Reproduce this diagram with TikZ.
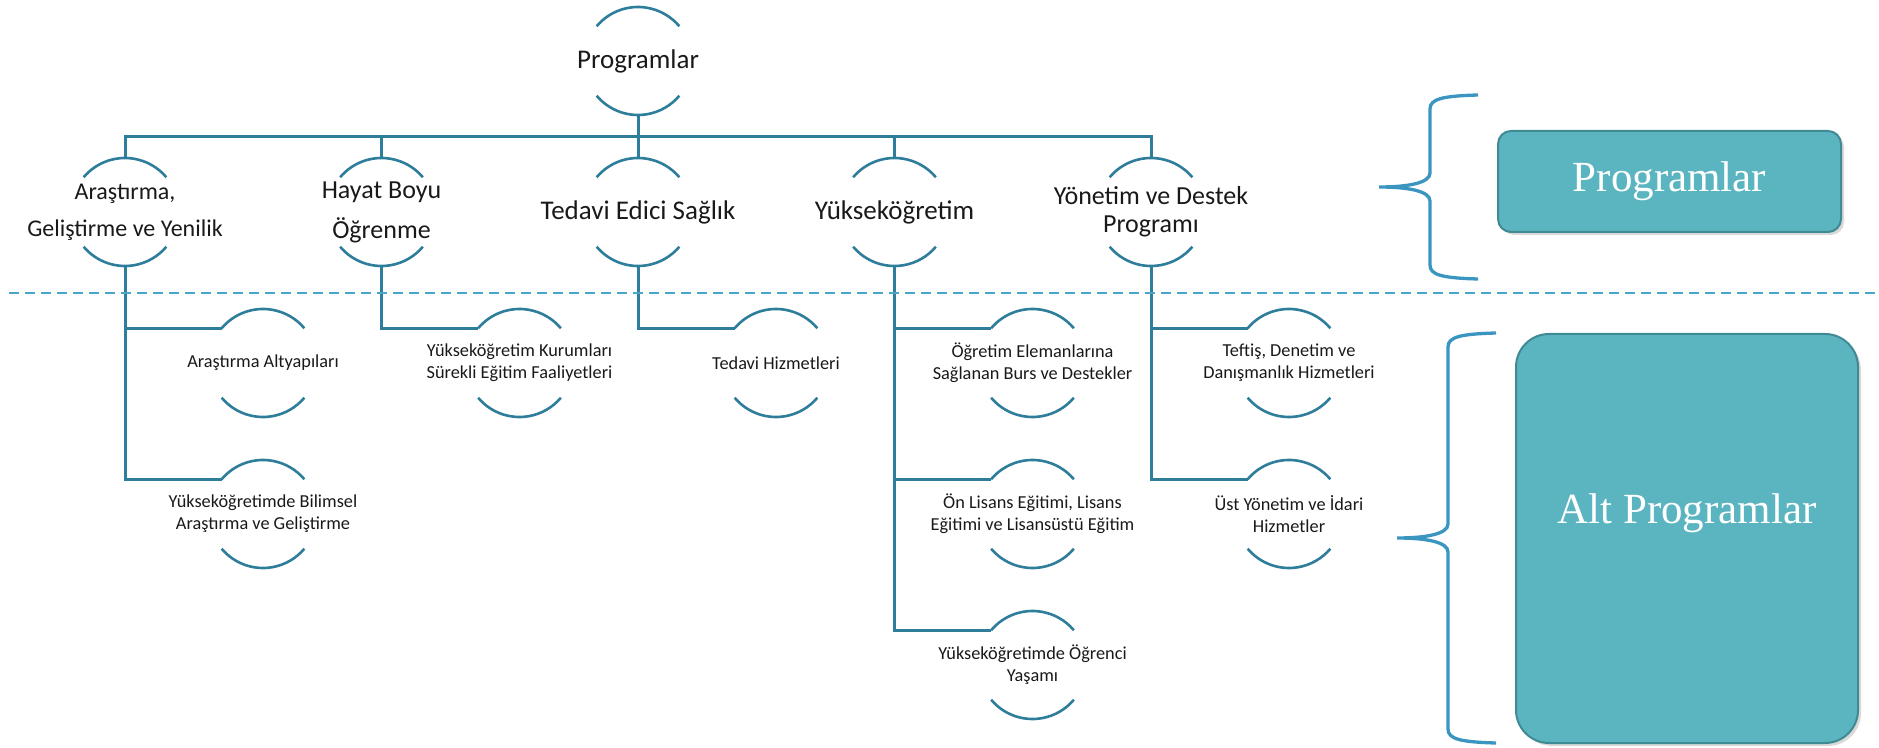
\documentclass[tikz,border=0pt]{standalone}
\usepackage{fontspec}
\newfontfamily\carlito{Carlito}
\newfontfamily\boxserif{Liberation Serif}
\usetikzlibrary{positioning, shadows}

\definecolor{treeblue}{RGB}{46,125,155}
\definecolor{dashblue}{RGB}{75,165,200}
\definecolor{braceblue}{RGB}{58,150,192}
\definecolor{boxfill}{RGB}{90,181,193}
\definecolor{boxline}{RGB}{64,138,148}

\tikzset{
    prog/.style={circle, minimum size=108pt, inner sep=0pt, outer sep=0pt, draw=none},
    lbl/.style={align=center, inner sep=0pt, text=black!90},
    huge/.style={lbl, font=\carlito\fontsize{27}{33}\selectfont},
    twoA/.style={lbl, font=\carlito\fontsize{24}{37}\selectfont},
    twoB/.style={lbl, font=\carlito\fontsize{26}{40}\selectfont},
    twoC/.style={lbl, font=\carlito\fontsize{26}{28}\selectfont},
    small/.style={lbl, font=\carlito\fontsize{18.3}{21.7}\selectfont},
    tree/.style={draw=treeblue, line width=3pt},
    arcline/.style={draw=treeblue, line width=2.6pt},
    brace/.style={draw=braceblue, line width=3.3pt},
    bigbox/.style={rectangle, fill=boxfill, draw=boxline, line width=2pt,
                   drop shadow={shadow xshift=3pt, shadow yshift=-3pt, opacity=.3}},
    boxtext/.style={text=white, font=\boxserif\fontsize{43}{50}\selectfont}
}

\begin{document}
\begin{tikzpicture}[x=1pt, y=1pt]
    \useasboundingbox (0,0) rectangle (1879,747);

    % Programs
    \node[prog, label={[huge]center:{Programlar}}] (top) at (638,686) {};
    \node[prog, below=43pt of top, label={[huge]center:{Tedavi Edici Sağlık}}] (ted) {};
    \node[prog, left=148.5pt of ted, label={[twoB]center:{Hayat Boyu\\Öğrenme}}] (hb) {};
    \node[prog, left=148.5pt of hb, label={[twoA]center:{Araştırma,\\Geliştirme ve Yenilik}}] (ar) {};
    \node[prog, right=148.5pt of ted, label={[huge]center:{Yükseköğretim}}] (yuk) {};
    \node[prog, right=148.5pt of yuk, label={[twoC]center:{Yönetim ve Destek\\Programı}}] (yon) {};

    % Sub programs
    \node[prog, below=43pt of ar, xshift=138pt, label={[small]center:{Araştırma Altyapıları}}] (ar1) {};
    \node[prog, below=43pt of ar1, label={[small]center:{Yükseköğretimde Bilimsel\\Araştırma ve Geliştirme}}] (ar2) {};
    \node[prog, below=43pt of hb, xshift=138pt, label={[small]center:{Yükseköğretim Kurumları\\Sürekli Eğitim Faaliyetleri}}] (hb1) {};
    \node[prog, below=43pt of ted, xshift=138pt, label={[small]center:{Tedavi Hizmetleri}}] (ted1) {};
    \node[prog, below=43pt of yuk, xshift=138pt, label={[small]center:{Öğretim Elemanlarına\\Sağlanan Burs ve Destekler}}] (yuk1) {};
    \node[prog, below=43pt of yuk1, label={[small]center:{Ön Lisans Eğitimi, Lisans\\Eğitimi ve Lisansüstü Eğitim}}] (yuk2) {};
    \node[prog, below=43pt of yuk2, label={[small]center:{Yükseköğretimde Öğrenci\\Yaşamı}}] (yuk3) {};
    \node[prog, below=43pt of yon, xshift=138pt, label={[small]center:{Teftiş, Denetim ve\\Danışmanlık Hizmetleri}}] (yon1) {};
    \node[prog, below=43pt of yon1, label={[small]center:{Üst Yönetim ve İdari\\Hizmetler}}] (yon2) {};

    % Arcs above and below each name
    \foreach \n in {top,ar,hb,ted,yuk,yon,ar1,ar2,hb1,ted1,yuk1,yuk2,yuk3,yon1,yon2}{
        \draw[arcline] (\n.140) arc[start angle=140, end angle=40, radius=54pt];
        \draw[arcline] (\n.220) arc[start angle=220, end angle=320, radius=54pt];
    }

    % Connectors
    \foreach \c in {ar,hb,ted,yuk,yon}
        \draw[tree] (top.south) -- ++(0,-21.5) -| (\c.north);
    \foreach \p/\s in {ar/ar1, ar/ar2, hb/hb1, ted/ted1, yuk/yuk1, yuk/yuk2, yuk/yuk3, yon/yon1, yon/yon2}
        \draw[tree] (\p.south) |- (\s.140);

    % Divider
    \draw[dashblue, line width=2.3pt, dash pattern=on 10pt off 6pt] (9,454) -- (1879,454);

    % Braces
    \foreach \m/\h/\xs in {560/92/1430, 209/205/1448}
        \draw[brace] (\xs+48,\m+\h) .. controls (\xs+12,\m+\h-1) and (\xs,\m+\h-4) .. (\xs,\m+\h-14)
            -- (\xs,\m+14) .. controls (\xs,\m+4) and (\xs-22,\m) .. (\xs-51,\m)
            .. controls (\xs-22,\m) and (\xs,\m-4) .. (\xs,\m-14)
            -- (\xs,\m-\h+14) .. controls (\xs,\m-\h+4) and (\xs+12,\m-\h+1) .. (\xs+48,\m-\h);

    % Legend boxes
    \node[bigbox, minimum width=343pt, minimum height=101pt, rounded corners=13pt,
          boxtext] (pbox) at (1669.5,565.5) {Programlar};
    \node[bigbox, minimum width=342pt, minimum height=409pt, rounded corners=33pt] (abox) at (1687,208.5) {};
    \node[boxtext] (atext) at ([yshift=25pt]abox.center) {Alt Programlar};
\end{tikzpicture}
\end{document}
